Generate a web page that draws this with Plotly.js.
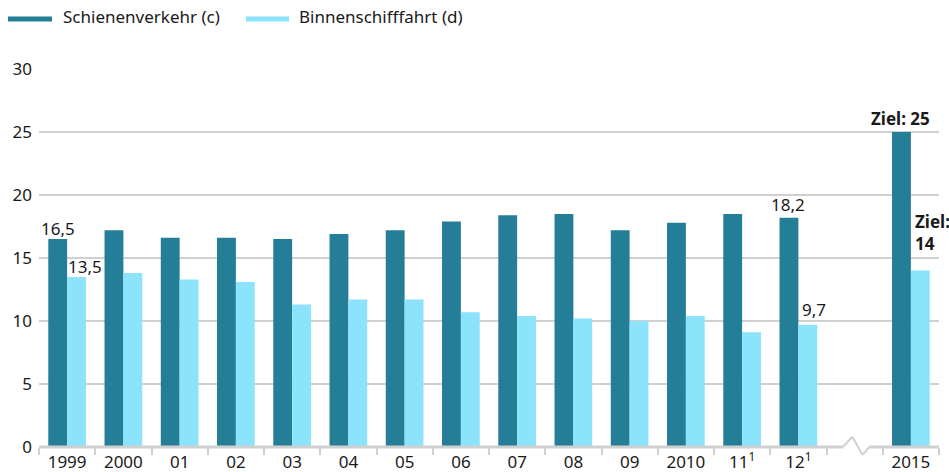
<!DOCTYPE html>
<html>
<head>
<meta charset="utf-8">
<script src="https://cdn.plot.ly/plotly-3.0.1.min.js"></script>
<style>html,body{margin:0;padding:0;background:#fff;}#chart{width:949px;height:472px;}</style>
</head>
<body>
<div id="chart"></div>
<script>
// Data
const categories = ['1999','2000','01','02','03','04','05','06','07','08','09','2010','11<sup>1</sup>','12<sup>1</sup>',' ','2015'];
const schiene = [16.5, 17.2, 16.6, 16.6, 16.5, 16.9, 17.2, 17.9, 18.4, 18.5, 17.2, 17.8, 18.5, 18.2, null, 25];
const binnen  = [13.5, 13.8, 13.3, 13.1, 11.3, 11.7, 11.7, 10.7, 10.4, 10.2, 10.0, 10.4, 9.1, 9.7, null, 14];
const seriesNames = ['Schienenverkehr (c)', 'Binnenschifffahrt (d)'];
const yTicks = [0, 5, 10, 15, 20, 25, 30];

const DARK = '#257e97';
const LIGHT = '#8ce4fc';
const FONT = 'Noto Sans, sans-serif';
const TXT = '#1a1a1a';
const GRID = '#d0d0d0';

const fmt = v => v.toFixed(1).replace('.', ',');

const traces = [
  {type:'bar', name:seriesNames[0], x:categories, y:schiene, marker:{color:DARK}, showlegend:false, hoverinfo:'skip'},
  {type:'bar', name:seriesNames[1], x:categories, y:binnen, marker:{color:LIGHT}, showlegend:false, hoverinfo:'skip'}
];

const labelFont = {family:FONT, size:17, color:TXT};

// annotation helper: category index position
const ann = (i, val, text, opts) => Object.assign({x:i, y:val, text:text, xref:'x', yref:'y', showarrow:false, yanchor:'bottom', font:labelFont}, opts);

const annotations = [
  ann(0, schiene[0], fmt(schiene[0]), {xanchor:'center', xshift:-9, yshift:-3}),
  ann(0, binnen[0], fmt(binnen[0]), {xanchor:'left', xshift:-1, yshift:-3}),
  ann(13, schiene[13], fmt(schiene[13]), {xanchor:'center', xshift:-10, yshift:0}),
  ann(13, binnen[13], fmt(binnen[13]), {xanchor:'left', xshift:2, yshift:2}),
  ann(15, schiene[15], '<b>Ziel: ' + schiene[15] + '</b>', {xanchor:'center', xshift:-10, yshift:0}),
  ann(15, binnen[15], '<b>Ziel:<br>' + binnen[15] + '</b>', {xanchor:'left', align:'left', xshift:2, yshift:14}),
  // legend texts (pixel positions converted below)
  {x:61, y:17, xref:'paper', yref:'paper', text:seriesNames[0], showarrow:false, xanchor:'left', yanchor:'middle', font:labelFont},
  {x:297, y:17, xref:'paper', yref:'paper', text:seriesNames[1], showarrow:false, xanchor:'left', yanchor:'middle', font:labelFont}
];

const layout = {
  width:949, height:472,
  margin:{l:39, r:10, t:69, b:25, pad:0},
  paper_bgcolor:'#fff', plot_bgcolor:'#fff',
  barmode:'group', bargap:0.33, bargroupgap:0,
  font:{family:FONT, size:17, color:TXT},
  xaxis:{type:'category', categoryarray:categories, categoryorder:'array', range:[-0.5, 15.5],
         tickson:'boundaries', ticks:'outside', ticklen:7, tickwidth:2, tickcolor:GRID,
         showline:false, showgrid:false, zeroline:false, fixedrange:true, ticklabelstandoff:3,
         tickfont:{family:FONT, size:17, color:TXT}},
  yaxis:{range:[0,30], tickvals:yTicks, ticks:'', showline:false, zeroline:false,
         showgrid:true, gridcolor:GRID, gridwidth:2, fixedrange:true,
         tickfont:{family:FONT, size:17, color:TXT}, ticklabelstandoff:6},
  annotations: annotations,
  shapes: []
};

// Axis baseline with break
const brk = {a:13.79, b:13.96, c:14.14, d:14.26};
layout.shapes.push(
  {type:'rect', xref:'x', yref:'paper', x0:brk.a, x1:brk.d, y0:-0.01, y1:0.01, fillcolor:'#fff', line:{width:0}, layer:'above'},
  {type:'line', xref:'x', yref:'paper', x0:-0.5, x1:brk.a, y0:0, y1:0, line:{color:GRID, width:3}, layer:'above'},
  {type:'line', xref:'x', yref:'paper', x0:brk.a, x1:brk.b, y0:0, y1:0.027, line:{color:GRID, width:2}, layer:'above'},
  {type:'line', xref:'x', yref:'paper', x0:brk.b, x1:brk.c, y0:0.027, y1:-0.021, line:{color:GRID, width:2}, layer:'above'},
  {type:'line', xref:'x', yref:'paper', x0:brk.c, x1:brk.d, y0:-0.021, y1:0, line:{color:GRID, width:2}, layer:'above'},
  {type:'line', xref:'x', yref:'paper', x0:brk.d, x1:15.5, y0:0, y1:0, line:{color:GRID, width:3}, layer:'above'}
);

// legend symbols, pixel positions -> paper coords
const plotW = 949 - 39 - 10, plotH = 472 - 69 - 25;
const px = v => (v - 39) / plotW;
const py = v => (472 - 25 - v) / plotH;
annotations.slice(-2).forEach(a => { a.x = px(a.x); a.y = py(a.y); });
layout.shapes.push(
  {type:'line', xref:'paper', yref:'paper', x0:px(8), x1:px(52), y0:py(19), y1:py(19), line:{color:DARK, width:5}},
  {type:'line', xref:'paper', yref:'paper', x0:px(246), x1:px(289), y0:py(19), y1:py(19), line:{color:LIGHT, width:5}}
);

Plotly.newPlot('chart', traces, layout, {displayModeBar:false, staticPlot:true});
</script>
</body>
</html>
